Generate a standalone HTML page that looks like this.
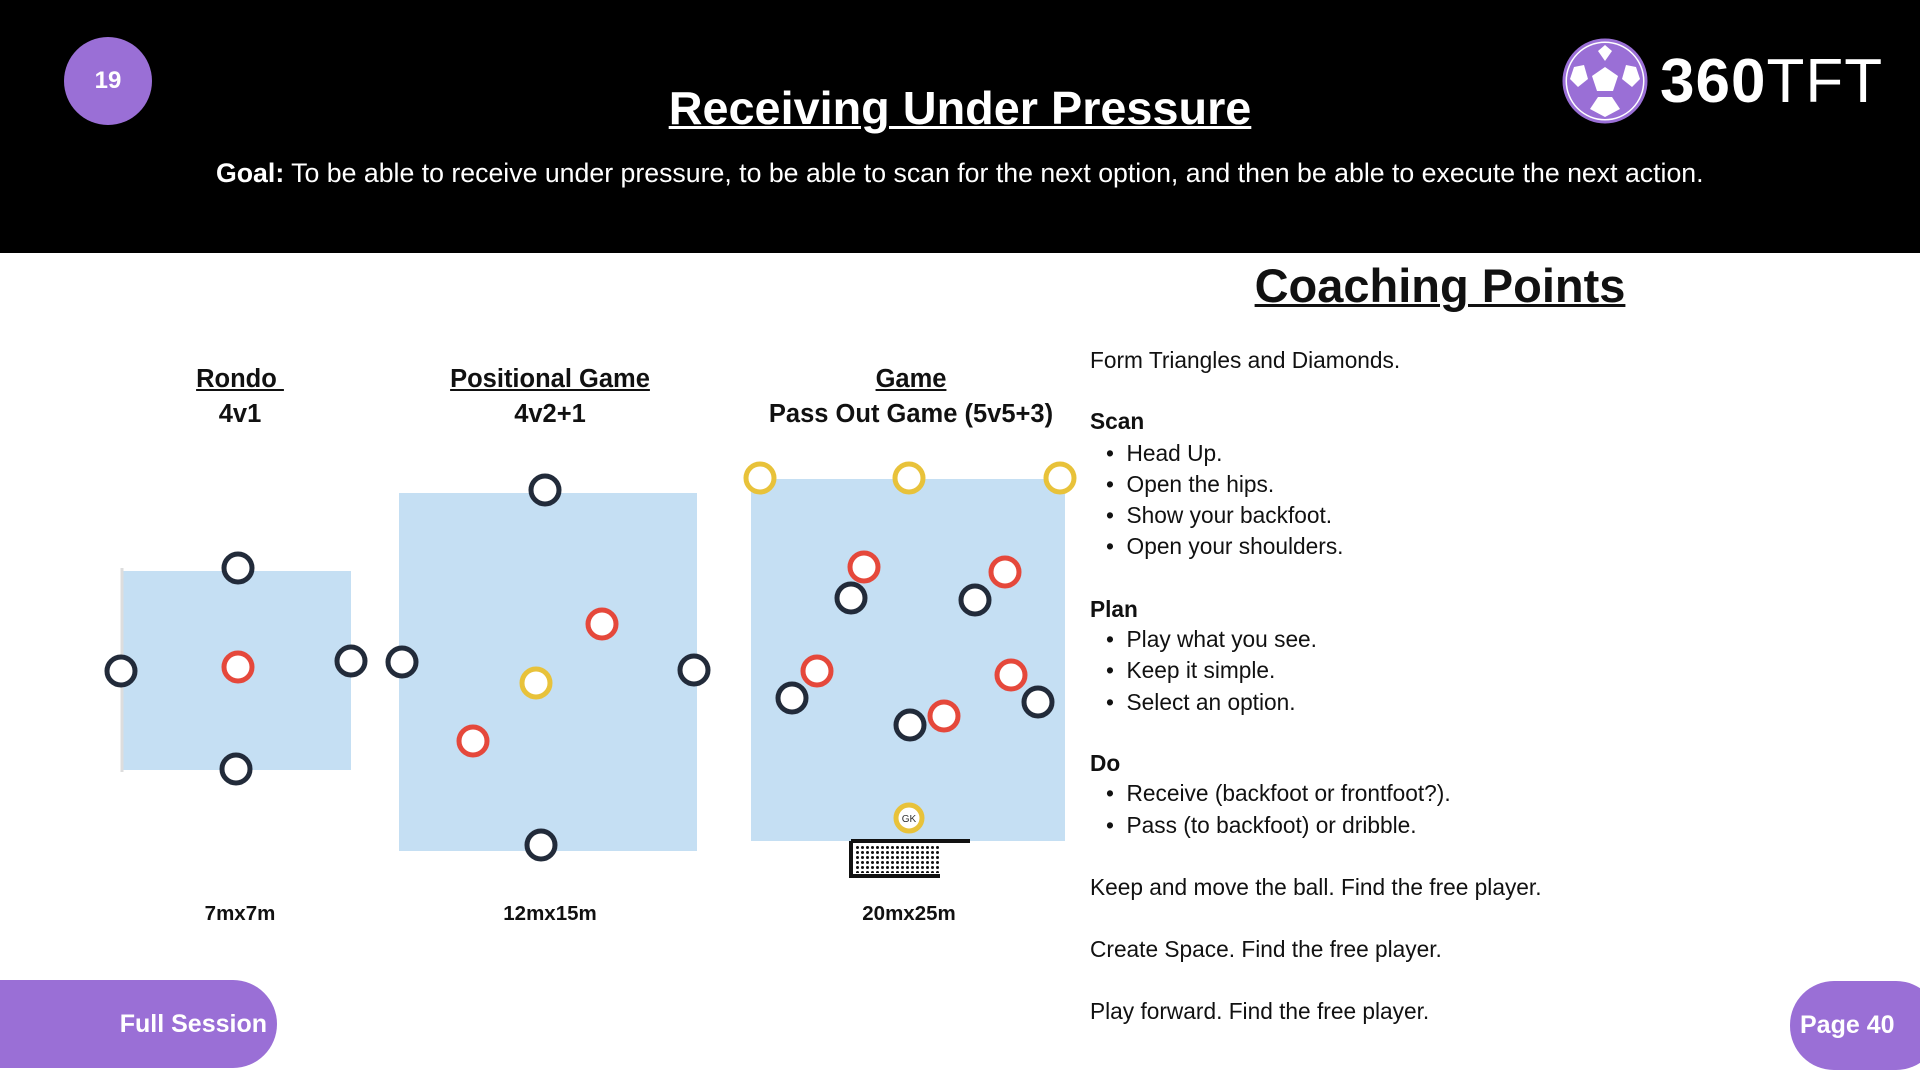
<!DOCTYPE html>
<html><head><meta charset="utf-8"><style>
*{margin:0;padding:0;box-sizing:border-box}
body{width:1920px;height:1080px;background:#fff;position:relative;overflow:hidden;font-family:"Liberation Sans",sans-serif;color:#111}
.hdr{position:absolute;left:0;top:0;width:1920px;height:253px;background:#000}
.abs{position:absolute;white-space:nowrap}
.c{transform:translateX(-50%)}
.rt{font-size:22.7px;color:#111}
.b{font-weight:bold}
</style></head><body>
<div class="hdr"></div>
<div class="abs" style="left:64px;top:37px;width:88px;height:88px;border-radius:50%;background:#9a6fd6;color:#fff;font-weight:bold;font-size:24px;line-height:88px;text-align:center">19</div>
<div class="abs c" style="left:960px;top:81px;color:#fff;font-weight:bold;font-size:46.8px;text-decoration:underline;text-decoration-thickness:3px">Receiving Under Pressure</div>
<div class="abs" style="left:216px;top:158px;color:#fff;font-size:26.7px"><b>Goal:</b> To be able to receive under pressure, to be able to scan for the next option, and then be able to execute the next action.</div>
<svg class="abs" style="left:1560px;top:37px" width="90" height="90" viewBox="0 0 90 90">
<circle cx="45" cy="44" r="41" fill="#fff" stroke="#9a6fd6" stroke-width="3"/>
<circle cx="45" cy="44" r="38" fill="#9a6fd6"/>
<polygon points="45,30 58,39 53,54 37,54 32,39" fill="#fff"/>
<polygon points="45,8 52,14 45,24 38,14" fill="#fff"/>
<polygon points="14,30 24,28 28,42 18,50 10,42" fill="#fff"/>
<polygon points="76,30 66,28 62,42 72,50 80,42" fill="#fff"/>
<polygon points="30,72 38,60 52,60 60,72 45,80" fill="#fff"/>
</svg>
<div class="abs" style="left:1660px;top:46px;color:#fff;font-size:62px;letter-spacing:1px"><b>360</b>TFT</div>

<div class="abs c" style="left:1440px;top:258px;font-weight:bold;font-size:47px;text-decoration:underline;text-decoration-thickness:3px">Coaching Points</div>
<div class="abs rt" style="left:1090px;top:347px">Form Triangles and Diamonds.</div>
<div class="abs rt b" style="left:1090px;top:408px">Scan</div>
<div class="abs rt" style="left:1106px;top:440px">•&nbsp;&nbsp;Head Up.</div>
<div class="abs rt" style="left:1106px;top:471px">•&nbsp;&nbsp;Open the hips.</div>
<div class="abs rt" style="left:1106px;top:502px">•&nbsp;&nbsp;Show your backfoot.</div>
<div class="abs rt" style="left:1106px;top:533px">•&nbsp;&nbsp;Open your shoulders.</div>
<div class="abs rt b" style="left:1090px;top:596px">Plan</div>
<div class="abs rt" style="left:1106px;top:626px">•&nbsp;&nbsp;Play what you see.</div>
<div class="abs rt" style="left:1106px;top:657px">•&nbsp;&nbsp;Keep it simple.</div>
<div class="abs rt" style="left:1106px;top:689px">•&nbsp;&nbsp;Select an option.</div>
<div class="abs rt b" style="left:1090px;top:750px">Do</div>
<div class="abs rt" style="left:1106px;top:780px">•&nbsp;&nbsp;Receive (backfoot or frontfoot?).</div>
<div class="abs rt" style="left:1106px;top:812px">•&nbsp;&nbsp;Pass (to backfoot) or dribble.</div>
<div class="abs rt" style="left:1090px;top:874px">Keep and move the ball. Find the free player.</div>
<div class="abs rt" style="left:1090px;top:936px">Create Space. Find the free player.</div>
<div class="abs rt" style="left:1090px;top:998px">Play forward. Find the free player.</div>

<div class="abs c b" style="left:240px;top:365px;font-size:25.5px;text-decoration:underline">Rondo&nbsp;</div>
<div class="abs c b" style="left:240px;top:400px;font-size:25.5px">4v1</div>
<div class="abs c b" style="left:550px;top:365px;font-size:25.5px;text-decoration:underline">Positional Game</div>
<div class="abs c b" style="left:550px;top:400px;font-size:25.5px">4v2+1</div>
<div class="abs c b" style="left:911px;top:365px;font-size:25.5px;text-decoration:underline">Game</div>
<div class="abs c b" style="left:911px;top:400px;font-size:25.5px">Pass Out Game (5v5+3)</div>
<div class="abs c b" style="left:240px;top:902px;font-size:20.5px">7mx7m</div>
<div class="abs c b" style="left:550px;top:902px;font-size:20.5px">12mx15m</div>
<div class="abs c b" style="left:909px;top:902px;font-size:20.5px">20mx25m</div>

<svg class="abs" style="left:0;top:0" width="1100" height="900">
<defs><pattern id="net" width="5" height="5" patternUnits="userSpaceOnUse"><rect width="5" height="5" fill="#fff"/><circle cx="2.5" cy="2.5" r="1.5" fill="#111"/></pattern></defs>
<g fill="#c5dff3"><rect x="122" y="571" width="229" height="199"/><rect x="399" y="493" width="298" height="358"/><rect x="751" y="479" width="314" height="362"/></g>
<line x1="122" y1="568" x2="122" y2="772" stroke="#ddd" stroke-width="3"/>
<g fill="#fff" stroke-width="5">
<g stroke="#222b3a"><circle cx="238" cy="568" r="14"/><circle cx="121" cy="671" r="14"/><circle cx="351" cy="661" r="14"/><circle cx="236" cy="769" r="14"/>
<circle cx="545" cy="490" r="14"/><circle cx="402" cy="662" r="14"/><circle cx="694" cy="670" r="14"/><circle cx="541" cy="845" r="14"/></g>
<g stroke="#e5483b"><circle cx="238" cy="667" r="14"/><circle cx="602" cy="624" r="14"/><circle cx="473" cy="741" r="14"/>
<circle cx="864" cy="567" r="14"/><circle cx="1005" cy="572" r="14"/><circle cx="817" cy="671" r="14"/><circle cx="1011" cy="675" r="14"/><circle cx="944" cy="716" r="14"/></g>
<g stroke="#222b3a"><circle cx="851" cy="598" r="14"/><circle cx="975" cy="600" r="14"/><circle cx="792" cy="698" r="14"/><circle cx="1038" cy="702" r="14"/><circle cx="910" cy="725" r="14"/></g>
<g stroke="#e8c23a"><circle cx="536" cy="683" r="14"/><circle cx="760" cy="478" r="14"/><circle cx="909" cy="478" r="14"/><circle cx="1060" cy="478" r="14"/><circle cx="909" cy="818" r="13"/></g>
</g>
<text x="909" y="822" font-size="10" text-anchor="middle" font-family="Liberation Sans" fill="#333">GK</text>
<path d="M851 841 H970 M851 841 V876 H940" stroke="#111" stroke-width="4" fill="none"/>
<rect x="855" y="844" width="85" height="29" fill="url(#net)"/>
</svg>

<div class="abs" style="left:0;top:980px;width:277px;height:88px;background:#9a6fd6;border-radius:0 44px 44px 0;color:#fff;font-weight:bold;font-size:25px;line-height:88px;text-align:right;padding-right:10px">Full Session</div>
<div class="abs" style="left:1790px;top:981px;width:150px;height:89px;background:#9a6fd6;border-radius:44px;color:#fff;font-weight:bold;font-size:25px;line-height:89px;padding-left:10px">Page 40</div>
</body></html>
